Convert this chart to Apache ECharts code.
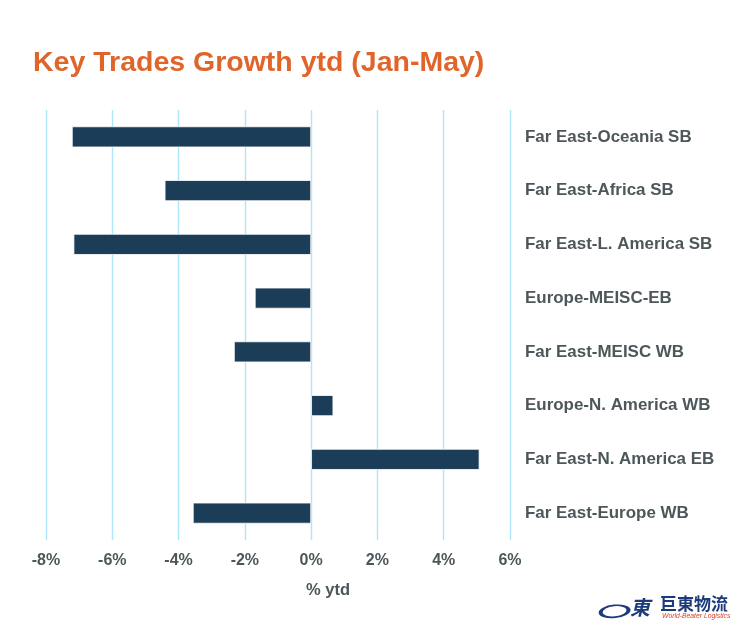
<!DOCTYPE html>
<html><head><meta charset="utf-8">
<style>html,body{margin:0;padding:0;background:#fff}#c{width:737px;height:627px}</style>
<script src="https://cdn.jsdelivr.net/npm/echarts@6/dist/echarts.min.js"></script>
</head><body><div id="c"></div>
<script>
const categories = ["Far East-Oceania SB","Far East-Africa SB","Far East-L. America SB","Europe-MEISC-EB","Far East-MEISC WB","Europe-N. America WB","Far East-N. America EB","Far East-Europe WB"];
const growth = [-7.22,-4.42,-7.17,-1.7,-2.33,0.67,5.08,-3.57];
const titleText = "Key Trades Growth ytd (Jan-May)";
const axisName = "% ytd";
const font = "'Liberation Sans', Arial, sans-serif";
const grey = "#4d5759";
const chart = echarts.init(document.getElementById('c'), null, {renderer:'canvas'});
chart.setOption({
  animation:false,
  backgroundColor:'#fff',
  title:{text:titleText,left:28,top:44,textStyle:{color:'#E0652B',fontSize:28.5,fontWeight:'bold',fontFamily:font}},
  grid:{left:46,right:227,top:110,bottom:87,containLabel:false},
  xAxis:{type:'value',min:-8,max:6,interval:2,
    name:axisName,nameLocation:'middle',nameGap:42,
    nameTextStyle:{color:grey,fontSize:16.5,fontWeight:'bold',fontFamily:font,padding:[0,0,0,100]},
    axisLine:{show:false},axisTick:{show:false},
    axisLabel:{formatter:'{value}%',color:grey,fontSize:16,fontWeight:'bold',fontFamily:font,margin:13},
    splitLine:{show:true,lineStyle:{color:'#ABE6FB',width:1.4}}},
  yAxis:{type:'category',inverse:true,position:'right',data:categories,
    axisLine:{show:false},axisTick:{show:false},
    axisLabel:{color:grey,fontSize:16.95,fontWeight:'bold',fontFamily:font,margin:15,align:'left',padding:[2,0,0,0]},
    splitLine:{show:false}},
  series:[{type:'bar',data:growth,barWidth:21,
    itemStyle:{color:'#1B3D58',borderColor:'#ffffff',borderWidth:0.8},silent:true}],
  graphic:[
    {type:'ring',left:598,top:603,shape:{cx:0,cy:0,r:16,r0:12},scaleY:0.42,rotation:0.1,style:{fill:'#1d3a7a'},silent:true},
    {type:'text',left:630,top:597,style:{text:'東',fill:'#1d3a7a',font:"italic bold 20px 'Noto Sans CJK TC'"},silent:true},
    {type:'text',left:660,top:595,style:{text:'巨東物流',fill:'#1d3a7a',font:"bold 17px 'Noto Sans CJK TC'"},silent:true},
    {type:'text',left:662,top:613,style:{text:'World-Beater Logistics',fill:'#d8402a',font:"italic 6.8px 'Liberation Sans'"},silent:true}
  ]
});
</script></body></html>
